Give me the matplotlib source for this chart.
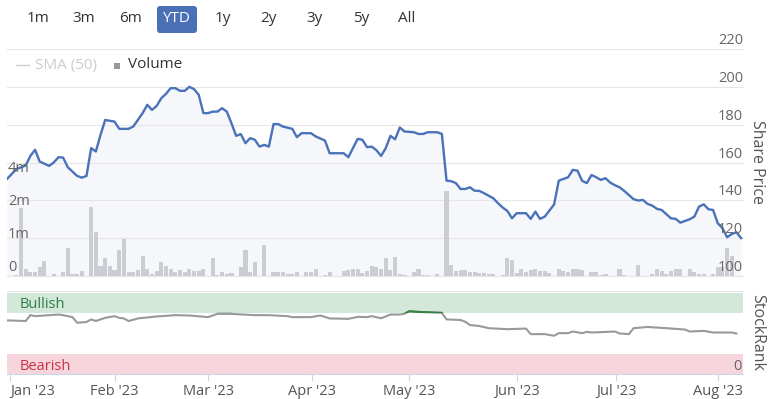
import numpy as np
import pandas as pd
import matplotlib
matplotlib.use('Agg')
import matplotlib.pyplot as plt
import matplotlib.transforms as mtransforms
from matplotlib.patches import FancyBboxPatch, Rectangle
from matplotlib.lines import Line2D

plt.rcParams['font.family'] = ['Open Sans', 'DejaVu Sans']

# ---------------- data ----------------
# trading days on an ordinal axis (weekends dropped)
dates = pd.bdate_range('2022-12-30', '2023-08-08')

# share price (trading-day index, price)
price_idx = [0, 2, 4, 5, 6, 7, 9, 10, 11, 12,
             13, 15, 16, 17, 18, 19, 20, 21, 23, 24,
             26, 27, 29, 30, 31, 32, 33, 34, 35, 36,
             37, 38, 39, 40, 41, 42, 43, 44, 45, 46,
             47, 48, 49, 50, 51, 52, 53, 54, 55, 56,
             57, 58, 59, 61, 62, 63, 65, 66, 68, 69,
             72, 73, 74, 75, 76, 77, 78, 79, 80, 81,
             82, 83, 84, 85, 87, 88, 89, 90, 92, 93,
             94, 95, 96, 97, 98, 99, 100, 101, 102, 104,
             105, 106, 107, 108, 109, 111, 112, 113, 114, 115,
             116, 117, 118, 119, 120, 121, 122, 123, 124, 125,
             126, 127, 128, 129, 130, 131, 132, 134, 135, 136,
             137, 138, 139, 140, 142, 143, 144, 146, 147, 148,
             149, 150, 151, 152, 153, 154, 155, 156, 157]
price = [151.3, 156.5, 158.4, 163.5, 166.7, 160.5, 158.2, 160.0, 162.8, 162.6,
         157.5, 152.9, 152.0, 152.9, 167.6, 165.8, 174.6, 182.5, 181.6, 177.8,
         177.8, 179.0, 186.1, 190.5, 187.8, 189.9, 194.0, 196.3, 199.3, 199.3,
         197.9, 197.9, 200.0, 198.8, 195.8, 186.1, 186.1, 186.9, 186.9, 188.7,
         186.9, 180.8, 174.1, 175.0, 170.2, 172.9, 172.0, 168.4, 169.3, 168.4,
         180.3, 180.3, 179.0, 177.8, 173.4, 175.5, 175.5, 173.8, 171.6, 164.9,
         164.9, 162.8, 167.6, 172.5, 172.0, 168.1, 168.4, 166.5, 163.5, 167.6,
         174.1, 172.3, 178.5, 176.4, 176.0, 175.1, 175.1, 176.0, 176.0, 175.1,
         150.4, 150.1, 149.1, 146.0, 146.0, 146.9, 145.1, 145.0, 143.8, 141.1,
         138.5, 136.2, 134.4, 130.5, 133.2, 133.2, 130.2, 134.0, 130.2, 131.4,
         134.6, 137.8, 150.4, 151.3, 152.2, 156.1, 155.7, 150.3, 149.1, 153.4,
         152.2, 150.8, 151.7, 149.4, 148.0, 146.9, 145.0, 140.6, 139.9, 140.2,
         138.1, 137.2, 135.5, 134.9, 130.5, 130.2, 128.2, 130.0, 131.4, 136.7,
         137.9, 135.3, 134.9, 127.9, 125.3, 120.5, 122.2, 123.1, 120.0]

# daily volume (millions), one value per trading day
volume = [0, 0, 0.02, 2.12, 0.20, 0.11, 0.11, 0.27, 0.45, 0,
          0.05, 0, 0.13, 0.84, 0.07, 0.05, 0.15, 0, 2.18, 1.33,
          0.30, 0.54, 0.30, 0.17, 0.78, 1.11, 0.13, 0.13, 0.17, 0.61,
          0.22, 0.05, 0.15, 0.42, 0.30, 0.20, 0.13, 0.17, 0.13, 0.20,
          0.15, 0.15, 0.20, 0, 0.54, 0.02, 0.12, 0.07, 0.09, 0,
          0.27, 0.78, 0.13, 0.43, 0, 0.93, 0, 0.13, 0.13, 0.13,
          0.05, 0.07, 0.13, 0, 0.13, 0.13, 0.22, 0, 0.02, 0.12,
          0, 0, 0.15, 0.17, 0.22, 0.22, 0.09, 0.15, 0.30, 0.27,
          0.22, 0.54, 0.17, 0.58, 0.07, 0.02, 0, 0.13, 0.20, 0.02,
          0.02, 0, 0.07, 0, 3.15, 0.34, 0.15, 0.17, 0.17, 0.13,
          0.13, 0.09, 0.09, 0.07, 0.07, 0, 0.02, 0.54, 0.48, 0.09,
          0.22, 0.13, 0.17, 0.20, 0.15, 0.15, 0.09, 0, 0.22, 0.15,
          0.13, 0.20, 0.22, 0.17, 0, 0.12, 0.12, 0.02, 0.05, 0,
          0, 0.20, 0.02, 0, 0, 0.34, 0, 0, 0.07, 0.22,
          0.15, 0.07, 0.15, 0.20, 0.20, 0, 0.20, 0.12, 0.07, 0.07,
          0, 0.07, 0.27, 0.27, 0.84, 0.61, 0, 0]

# StockRank (trading-day index, rank)
rank_idx = [0, 4, 5, 6, 9, 11, 12, 14, 15, 17,
            18, 19, 21, 23, 24, 25, 26, 28, 32, 36,
            39, 43, 45, 48, 53, 56, 60, 61, 65, 67,
            69, 73, 75, 77, 78, 80, 82, 84, 85, 86,
            88, 93, 94, 97, 98, 99, 101, 103, 107, 111,
            112, 115, 117, 118, 120, 121, 123, 124, 125, 130,
            131, 133, 134, 137, 141, 145, 146, 149, 151, 155,
            156]
rank = [65.9, 65.1, 72.3, 71.1, 72.3, 73.1, 72.3, 69.9, 63.0, 63.9,
        67.1, 65.1, 69.0, 71.1, 69.0, 68.3, 65.1, 68.3, 70.7, 72.3,
        71.9, 69.9, 73.9, 73.9, 72.3, 72.3, 71.1, 69.9, 69.9, 71.9,
        68.3, 67.8, 70.2, 69.9, 71.1, 68.5, 73.1, 73.1, 73.9, 77.1,
        76.3, 75.1, 67.1, 66.3, 64.2, 60.2, 59.0, 56.3, 55.1, 55.8,
        49.0, 49.0, 47.0, 50.2, 50.2, 52.2, 50.2, 51.8, 51.0, 52.2,
        49.8, 49.0, 56.3, 57.8, 56.3, 54.6, 52.2, 53.0, 51.0, 51.0,
        49.8]

price_ticks = [100, 120, 140, 160, 180, 200, 220]
vol_ticks = [0, 1, 2, 4]
vol_labels = ['0', '1m', '2m', '4m']
buttons = ['1m', '3m', '6m', 'YTD', '1y', '2y', '3y', '5y', 'All']
bull_lim = 75
bear_lim = 25

# ---------------- figure ----------------
W, H, DPI = 772, 399, 100
fig = plt.figure(figsize=(W / DPI, H / DPI), dpi=DPI)
PX = mtransforms.Affine2D().scale(1 / DPI, -1 / DPI).translate(0, H / DPI) + fig.dpi_scale_trans


def box(l, t, r, b):
    return [l / W, 1 - b / H, (r - l) / W, (b - t) / H]


xmax = 157.4
line_c = '#4a72b8'
lab_c = '#666666'

# price panel
ax_p = fig.add_axes(box(7, 49, 743, 276))
ax_p.set_xlim(0, xmax)
ax_p.set_ylim(100, 220)
ax_p.set_yticks(price_ticks)
ax_p.grid(axis='y', color='#e6e6e6', lw=0.8)
for gl in ax_p.get_ygridlines():
    gl.set_clip_on(False)
for s in ax_p.spines.values():
    s.set_visible(False)
ax_p.fill_between(price_idx, price, 100, color=line_c, alpha=0.05, lw=0)
ax_p.plot(price_idx, price, color=line_c, lw=1.7, solid_joinstyle='round', zorder=5)

# volume on its own (compressed) scale
vk = [0, 1, 2, 4, 8, 40]
dk = [0, 1, 2, 3, 4, 12]


def vfwd(v):
    return np.interp(v, vk, dk)


def vinv(d):
    return np.interp(d, dk, vk)


ax_v = ax_p.twinx()
ax_v.set_yscale('function', functions=(vfwd, vinv))
ax_v.set_ylim(0, vinv(227 / 33))
ax_v.bar(np.arange(len(volume)), volume, width=0.88, color='#cbcdd3', lw=0)
ax_v.set_yticks([])
for s in ax_v.spines.values():
    s.set_visible(False)
for a in (ax_p, ax_v):
    a.tick_params(left=False, right=False, bottom=False, labelleft=False,
                  labelright=False, labelbottom=False)

# axis labels as text on top
tr_p = mtransforms.offset_copy(mtransforms.blended_transform_factory(ax_p.transAxes, ax_p.transData),
                               fig=fig, x=0, y=1, units='dots')
for t in price_ticks:
    fig.text(1.0, t, str(t), transform=tr_p, ha='right', va='bottom', color=lab_c, fontsize=10.5)
tr_v = mtransforms.offset_copy(mtransforms.blended_transform_factory(ax_v.transAxes, ax_v.transData),
                               fig=fig, x=1, y=1, units='dots')
for v, s in zip(vol_ticks, vol_labels):
    fig.text(0.0, v, s, transform=tr_v, ha='left', va='bottom', color=lab_c, fontsize=10.5)

# stockrank panel
ax_r = fig.add_axes(box(7, 291, 743, 374))
ax_r.set_xlim(0, xmax)
ax_r.set_ylim(0, 102)
bull = ax_r.axhspan(bull_lim, 100, color='#d4e8da', lw=0)
ax_r.axhspan(0, bear_lim, color='#f6d6dc', lw=0)
ax_r.plot(rank_idx, rank, color='#999999', lw=1.5)
green, = ax_r.plot(rank_idx, rank, color='#2e8540', lw=1.5)
green.set_clip_path(bull)
ax_r.set_yticks([])
for side in ['left', 'right']:
    ax_r.spines[side].set_visible(False)
ax_r.spines['top'].set_color('#e6e6e6')
ax_r.spines['top'].set_linewidth(0.8)
ax_r.spines['bottom'].set_color('#ccd6eb')
ax_r.spines['bottom'].set_linewidth(0.8)

month_starts = pd.date_range('2023-01-01', '2023-08-01', freq='MS')
tick_pos = np.interp(month_starts.asi8, dates.asi8, np.arange(len(dates)))
ax_r.set_xticks(tick_pos, [d.strftime("%b '%y") for d in month_starts])
ax_r.tick_params(axis='x', length=5, width=0.8, color='#ccd6eb', labelcolor='#555555',
                 labelsize=10.5, pad=2)
ax_r.get_xticklabels()[0].set_horizontalalignment('left')

fig.text(20, 304, 'Bullish', transform=PX, ha='left', va='center', color='#2e7d46', fontsize=10.5)
fig.text(20, 366, 'Bearish', transform=PX, ha='left', va='center', color='#c8304a', fontsize=10.5)
fig.text(742, 366, '0', transform=PX, ha='right', va='center', color=lab_c, fontsize=10.5)

fig.text(757, 162, 'Share Price', transform=PX, rotation=270, ha='center', va='center',
         color='#555555', fontsize=11.5)
fig.text(757, 332, 'StockRank', transform=PX, rotation=270, ha='center', va='center',
         color='#555555', fontsize=11.5)

# legend
fig.add_artist(Line2D([16, 29], [65, 65], transform=PX, color='#cccccc', lw=1))
fig.text(35, 65, 'SMA (50)', transform=PX, ha='left', va='center', color='#cccccc', fontsize=11)
fig.add_artist(Rectangle((114, 63), 6, 6, transform=PX, color='#999999', lw=0))
fig.text(128, 65, 'Volume', transform=PX, ha='left', va='center', color='#333333', fontsize=11)

# range selector buttons
fig.add_artist(FancyBboxPatch((157, 6), 40, 27, boxstyle='round,pad=0,rounding_size=3',
                              transform=PX, facecolor='#4a70b5', edgecolor='none'))
for i, b in enumerate(buttons):
    cx = 38 + i * 46.1
    fig.text(cx, 19, b, transform=PX, ha='center', va='center', fontsize=11,
             color='white' if b == 'YTD' else '#333333')

fig.savefig('out.png', dpi=DPI)
